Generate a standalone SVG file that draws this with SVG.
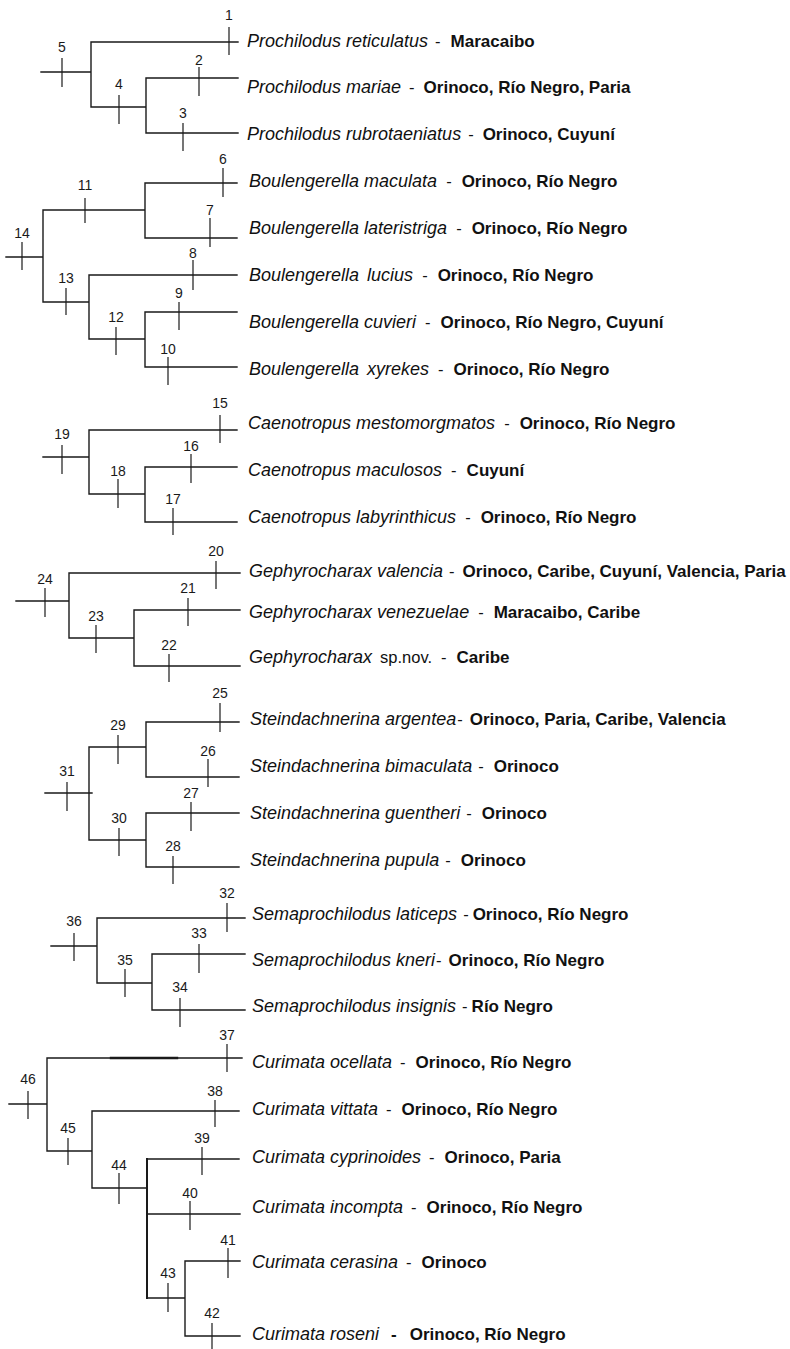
<svg xmlns="http://www.w3.org/2000/svg" width="790" height="1349" viewBox="0 0 790 1349">
<style>
.br{fill:none;stroke:#1a1a1a;stroke-width:1.4;stroke-linecap:square}
.tk{stroke:#1a1a1a;stroke-width:1.2}
.num{font-family:"Liberation Sans",Arial,sans-serif;font-size:14px;fill:#1a1a1a;text-anchor:middle}
.lf{font-family:"Liberation Sans",Arial,sans-serif;fill:#111}
.sp{font-style:italic;font-size:18px}
.d{font-size:16.5px}
.loc{font-weight:bold;font-size:17px}
</style>
<rect width="790" height="1349" fill="#fff"/>
<g id="connectors">
<path class="br" d="M41,72H91M91,42V107M91,42H238M91,107H146M146,78V133M146,78H238M146,133H238"/>
<path class="br" d="M6,257H43M43,210V302M43,210H145M145,183V238M145,183H237M145,238H237M43,302H89M89,275V339M89,275H237M89,339H145M145,312V367M145,312H237M145,367H237"/>
<path class="br" d="M43,457H89M89,430V494M89,430H237M89,494H145M145,467V522M145,467H237M145,522H237"/>
<path class="br" d="M16,601H69M69,573V638M69,573H240M69,638H134M134,610V666M134,610H240M134,666H240"/>
<path class="br" d="M45,793H92M89,747V840M89,747H146M146,722V777M146,722H239M146,777H239M89,840H146M146,813V867M146,813H239M146,867H239"/>
<path class="br" d="M51,946H97M97,918V983M97,918H245M97,983H152M152,954V1010M152,954H245M152,1010H245"/>
<path class="br" d="M9,1104H47M47,1058V1151M47,1058H242M47,1151H92M92,1111V1188M92,1111H239M92,1188H147M147,1159H239M147,1214H240M147,1298H185M185,1261V1336M185,1261H240M185,1336H240"/>
<path class="br" style="stroke-width:2.4" d="M111,1058H177"/>
<path class="br" style="stroke-width:2" d="M147,1159V1298"/>
</g>
<g id="n1"><line class="tk" x1="229" y1="27" x2="229" y2="55"/><text class="num" x="229" y="20">1</text></g>
<g id="n2"><line class="tk" x1="199" y1="67" x2="199" y2="96"/><text class="num" x="199" y="65">2</text></g>
<g id="n3"><line class="tk" x1="183" y1="123" x2="183" y2="151"/><text class="num" x="183" y="118">3</text></g>
<g id="n4"><line class="tk" x1="119" y1="95" x2="119" y2="124"/><text class="num" x="119" y="89">4</text></g>
<g id="n5"><line class="tk" x1="62" y1="58" x2="62" y2="87"/><text class="num" x="62" y="52">5</text></g>
<g id="n6"><line class="tk" x1="223" y1="168" x2="223" y2="197"/><text class="num" x="223" y="164">6</text></g>
<g id="n7"><line class="tk" x1="210" y1="218" x2="210" y2="247"/><text class="num" x="210" y="215">7</text></g>
<g id="n8"><line class="tk" x1="193" y1="260" x2="193" y2="290"/><text class="num" x="193" y="258">8</text></g>
<g id="n9"><line class="tk" x1="179" y1="302" x2="179" y2="330"/><text class="num" x="179" y="298">9</text></g>
<g id="n10"><line class="tk" x1="168" y1="357" x2="168" y2="385"/><text class="num" x="168" y="354">10</text></g>
<g id="n11"><line class="tk" x1="85" y1="198" x2="85" y2="223"/><text class="num" x="85" y="190">11</text></g>
<g id="n12"><line class="tk" x1="116" y1="327" x2="116" y2="355"/><text class="num" x="116" y="322">12</text></g>
<g id="n13"><line class="tk" x1="66" y1="288" x2="66" y2="315"/><text class="num" x="66" y="283">13</text></g>
<g id="n14"><line class="tk" x1="22" y1="242" x2="22" y2="270"/><text class="num" x="22" y="238">14</text></g>
<g id="n15"><line class="tk" x1="220" y1="415" x2="220" y2="443"/><text class="num" x="220" y="408">15</text></g>
<g id="n16"><line class="tk" x1="191" y1="454" x2="191" y2="483"/><text class="num" x="191" y="451">16</text></g>
<g id="n17"><line class="tk" x1="173" y1="508" x2="173" y2="535"/><text class="num" x="173" y="504">17</text></g>
<g id="n18"><line class="tk" x1="118" y1="479" x2="118" y2="508"/><text class="num" x="118" y="476">18</text></g>
<g id="n19"><line class="tk" x1="62" y1="445" x2="62" y2="474"/><text class="num" x="62" y="439">19</text></g>
<g id="n20"><line class="tk" x1="216" y1="561" x2="216" y2="589"/><text class="num" x="216" y="556">20</text></g>
<g id="n21"><line class="tk" x1="188" y1="598" x2="188" y2="626"/><text class="num" x="188" y="593">21</text></g>
<g id="n22"><line class="tk" x1="169" y1="654" x2="169" y2="682"/><text class="num" x="169" y="650">22</text></g>
<g id="n23"><line class="tk" x1="96" y1="625" x2="96" y2="653"/><text class="num" x="96" y="621">23</text></g>
<g id="n24"><line class="tk" x1="45" y1="588" x2="45" y2="617"/><text class="num" x="45" y="584">24</text></g>
<g id="n25"><line class="tk" x1="220" y1="703" x2="220" y2="732"/><text class="num" x="220" y="698">25</text></g>
<g id="n26"><line class="tk" x1="208" y1="759" x2="208" y2="787"/><text class="num" x="208" y="756">26</text></g>
<g id="n27"><line class="tk" x1="191" y1="802" x2="191" y2="831"/><text class="num" x="191" y="798">27</text></g>
<g id="n28"><line class="tk" x1="173" y1="856" x2="173" y2="884"/><text class="num" x="173" y="851">28</text></g>
<g id="n29"><line class="tk" x1="118" y1="735" x2="118" y2="764"/><text class="num" x="118" y="730">29</text></g>
<g id="n30"><line class="tk" x1="119" y1="828" x2="119" y2="856"/><text class="num" x="119" y="823">30</text></g>
<g id="n31"><line class="tk" x1="67" y1="782" x2="67" y2="811"/><text class="num" x="67" y="776">31</text></g>
<g id="n32"><line class="tk" x1="227" y1="903" x2="227" y2="932"/><text class="num" x="227" y="898">32</text></g>
<g id="n33"><line class="tk" x1="199" y1="944" x2="199" y2="973"/><text class="num" x="199" y="938">33</text></g>
<g id="n34"><line class="tk" x1="180" y1="998" x2="180" y2="1027"/><text class="num" x="180" y="992">34</text></g>
<g id="n35"><line class="tk" x1="125" y1="969" x2="125" y2="997"/><text class="num" x="125" y="965">35</text></g>
<g id="n36"><line class="tk" x1="74" y1="933" x2="74" y2="961"/><text class="num" x="74" y="926">36</text></g>
<g id="n37"><line class="tk" x1="227" y1="1044" x2="227" y2="1072"/><text class="num" x="227" y="1040">37</text></g>
<g id="n38"><line class="tk" x1="215" y1="1100" x2="215" y2="1127"/><text class="num" x="215" y="1096">38</text></g>
<g id="n39"><line class="tk" x1="202" y1="1147" x2="202" y2="1175"/><text class="num" x="202" y="1143">39</text></g>
<g id="n40"><line class="tk" x1="190" y1="1201" x2="190" y2="1230"/><text class="num" x="190" y="1198">40</text></g>
<g id="n41"><line class="tk" x1="228" y1="1248" x2="228" y2="1278"/><text class="num" x="228" y="1245">41</text></g>
<g id="n42"><line class="tk" x1="212" y1="1323" x2="212" y2="1349"/><text class="num" x="212" y="1318">42</text></g>
<g id="n43"><line class="tk" x1="168" y1="1283" x2="168" y2="1312"/><text class="num" x="168" y="1278">43</text></g>
<g id="n44"><line class="tk" x1="119" y1="1173" x2="119" y2="1204"/><text class="num" x="119" y="1170">44</text></g>
<g id="n45"><line class="tk" x1="68" y1="1138" x2="68" y2="1165"/><text class="num" x="68" y="1133">45</text></g>
<g id="n46"><line class="tk" x1="28" y1="1091" x2="28" y2="1119"/><text class="num" x="28" y="1084">46</text></g>

<g id="leaf-p-reticulatus"><text class="lf" x="247" y="47"><tspan class="sp">Prochilodus reticulatus</tspan><tspan class="d" dx="7">-</tspan><tspan class="loc" dx="10">Maracaibo</tspan></text></g>
<g id="leaf-p-mariae"><text class="lf" x="247" y="93"><tspan class="sp">Prochilodus mariae</tspan><tspan class="d" dx="8">-</tspan><tspan class="loc" dx="9">Orinoco, Río Negro, Paria</tspan></text></g>
<g id="leaf-p-rubrotaeniatus"><text class="lf" x="247" y="140"><tspan class="sp">Prochilodus rubrotaeniatus</tspan><tspan class="d" dx="7">-</tspan><tspan class="loc" dx="9">Orinoco, Cuyuní</tspan></text></g>

<g id="leaf-b-maculata"><text class="lf" x="249" y="187"><tspan class="sp">Boulengerella maculata</tspan><tspan class="d" dx="9">-</tspan><tspan class="loc" dx="10">Orinoco, Río Negro</tspan></text></g>
<g id="leaf-b-lateristriga"><text class="lf" x="249" y="234"><tspan class="sp">Boulengerella lateristriga</tspan><tspan class="d" dx="9">-</tspan><tspan class="loc" dx="10">Orinoco, Río Negro</tspan></text></g>
<g id="leaf-b-lucius"><text class="lf" x="249" y="281"><tspan class="sp">Boulengerella <tspan dx="3">lucius</tspan></tspan><tspan class="d" dx="9">-</tspan><tspan class="loc" dx="10">Orinoco, Río Negro</tspan></text></g>
<g id="leaf-b-cuvieri"><text class="lf" x="249" y="328"><tspan class="sp">Boulengerella cuvieri</tspan><tspan class="d" dx="9">-</tspan><tspan class="loc" dx="10">Orinoco, Río Negro, Cuyuní</tspan></text></g>
<g id="leaf-b-xyrekes"><text class="lf" x="249" y="375"><tspan class="sp">Boulengerella <tspan dx="3">xyrekes</tspan></tspan><tspan class="d" dx="9">-</tspan><tspan class="loc" dx="10">Orinoco, Río Negro</tspan></text></g>

<g id="leaf-c-mestomorgmatos"><text class="lf" x="248" y="429"><tspan class="sp">Caenotropus mestomorgmatos</tspan><tspan class="d" dx="9">-</tspan><tspan class="loc" dx="10">Orinoco, Río Negro</tspan></text></g>
<g id="leaf-c-maculosos"><text class="lf" x="248" y="476"><tspan class="sp">Caenotropus maculosos</tspan><tspan class="d" dx="9">-</tspan><tspan class="loc" dx="10">Cuyuní</tspan></text></g>
<g id="leaf-c-labyrinthicus"><text class="lf" x="248" y="523"><tspan class="sp">Caenotropus labyrinthicus</tspan><tspan class="d" dx="9">-</tspan><tspan class="loc" dx="10">Orinoco, Río Negro</tspan></text></g>

<g id="leaf-g-valencia"><text class="lf" x="249" y="577"><tspan class="sp">Gephyrocharax valencia</tspan><tspan class="d" dx="6">-</tspan><tspan class="loc" dx="8">Orinoco, Caribe, Cuyuní, Valencia, Paria</tspan></text></g>
<g id="leaf-g-venezuelae"><text class="lf" x="249" y="618"><tspan class="sp">Gephyrocharax venezuelae</tspan><tspan class="d" dx="9">-</tspan><tspan class="loc" dx="10">Maracaibo, Caribe</tspan></text></g>
<g id="leaf-g-spnov"><text class="lf" x="249" y="663"><tspan class="sp">Gephyrocharax</tspan><tspan class="d" dx="8">sp.nov.</tspan><tspan class="d" dx="9">-</tspan><tspan class="loc" dx="10">Caribe</tspan></text></g>

<g id="leaf-s-argentea"><text class="lf" x="250" y="725"><tspan class="sp">Steindachnerina argentea</tspan><tspan class="d" dx="1">-</tspan><tspan class="loc" dx="7">Orinoco, Paria, Caribe, Valencia</tspan></text></g>
<g id="leaf-s-bimaculata"><text class="lf" x="250" y="772"><tspan class="sp">Steindachnerina bimaculata</tspan><tspan class="d" dx="6">-</tspan><tspan class="loc" dx="10">Orinoco</tspan></text></g>
<g id="leaf-s-guentheri"><text class="lf" x="250" y="819"><tspan class="sp">Steindachnerina guentheri</tspan><tspan class="d" dx="6">-</tspan><tspan class="loc" dx="10">Orinoco</tspan></text></g>
<g id="leaf-s-pupula"><text class="lf" x="250" y="866"><tspan class="sp">Steindachnerina pupula</tspan><tspan class="d" dx="6">-</tspan><tspan class="loc" dx="10">Orinoco</tspan></text></g>

<g id="leaf-se-laticeps"><text class="lf" x="252" y="920"><tspan class="sp">Semaprochilodus laticeps</tspan><tspan class="d" dx="6">-</tspan><tspan class="loc" dx="4">Orinoco, Río Negro</tspan></text></g>
<g id="leaf-se-kneri"><text class="lf" x="252" y="966"><tspan class="sp">Semaprochilodus kneri</tspan><tspan class="d" dx="1">-</tspan><tspan class="loc" dx="7">Orinoco, Río Negro</tspan></text></g>
<g id="leaf-se-insignis"><text class="lf" x="252" y="1012"><tspan class="sp">Semaprochilodus insignis</tspan><tspan class="d" dx="6">-</tspan><tspan class="loc" dx="4">Río Negro</tspan></text></g>

<g id="leaf-cu-ocellata"><text class="lf" x="252" y="1068"><tspan class="sp">Curimata ocellata</tspan><tspan class="d" dx="8">-</tspan><tspan class="loc" dx="10">Orinoco, Río Negro</tspan></text></g>
<g id="leaf-cu-vittata"><text class="lf" x="252" y="1115"><tspan class="sp">Curimata vittata</tspan><tspan class="d" dx="8">-</tspan><tspan class="loc" dx="10">Orinoco, Río Negro</tspan></text></g>
<g id="leaf-cu-cyprinoides"><text class="lf" x="252" y="1163"><tspan class="sp">Curimata cyprinoides</tspan><tspan class="d" dx="8">-</tspan><tspan class="loc" dx="10">Orinoco, Paria</tspan></text></g>
<g id="leaf-cu-incompta"><text class="lf" x="252" y="1213"><tspan class="sp">Curimata incompta</tspan><tspan class="d" dx="8">-</tspan><tspan class="loc" dx="10">Orinoco, Río Negro</tspan></text></g>
<g id="leaf-cu-cerasina"><text class="lf" x="252" y="1268"><tspan class="sp">Curimata cerasina</tspan><tspan class="d" dx="8">-</tspan><tspan class="loc" dx="10">Orinoco</tspan></text></g>
<g id="leaf-cu-roseni"><text class="lf" x="252" y="1340"><tspan class="sp">Curimata roseni</tspan><tspan class="loc" dx="12">-</tspan><tspan class="loc" dx="13">Orinoco, Río Negro</tspan></text></g>
</svg>
